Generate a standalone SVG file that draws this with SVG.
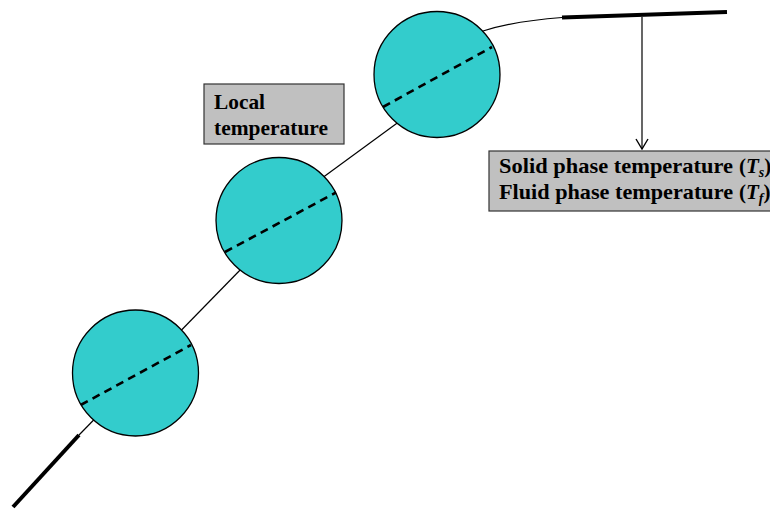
<svg xmlns="http://www.w3.org/2000/svg" width="770" height="509" viewBox="0 0 770 509">
<style>
.thin{fill:none;stroke:#000;stroke-width:1.2}
.thick{fill:none;stroke:#000;stroke-width:4}
.ball{fill:#33CCCC;stroke:#000;stroke-width:1.3}
.dash{fill:none;stroke:#000;stroke-width:2.6;stroke-dasharray:8 5.5}
.box{fill:#C0C0C0;stroke:#333;stroke-width:1.2}
.lbl{font-family:"Liberation Serif","Times New Roman",serif;font-weight:bold;font-size:21px;fill:#000}
.it{font-style:italic}
.sub{font-style:italic;font-size:14px}
</style>
<defs>
<marker id="arr" markerWidth="14" markerHeight="12" refX="7" refY="11" orient="0" markerUnits="userSpaceOnUse">
<path d="M1,1 L7,11 L13,1" fill="none" stroke="#000" stroke-width="1.4"/>
</marker>
</defs>
<g id="connectors">
<path class="thick" d="M13,507 L79,435"/>
<path class="thin" d="M79,435 L245,265"/>
<path class="thin" d="M318,181 L400,121"/>
<path class="thin" d="M470,38 L483,31 Q515,21 562,17.5"/>
<path class="thick" d="M562,17.5 L727,12"/>
<path class="thin" d="M642,17 L642,149" marker-end="url(#arr)"/>
</g>
<g id="particle1">
<circle class="ball" cx="135.5" cy="373" r="63"/>
<path class="dash" d="M80.7,405 L191,345"/>
</g>
<g id="particle2">
<circle class="ball" cx="279" cy="220.5" r="63"/>
<path class="dash" d="M225,252 L336,192.5"/>
</g>
<g id="particle3">
<circle class="ball" cx="437" cy="74.5" r="63"/>
<path class="dash" d="M383,107 L492,47"/>
</g>
<g id="local-label">
<rect class="box" x="204" y="84" width="140" height="60"/>
<text class="lbl" x="214" y="109" textLength="51" lengthAdjust="spacingAndGlyphs">Local</text>
<text class="lbl" x="214" y="135" textLength="114" lengthAdjust="spacingAndGlyphs">temperature</text>
</g>
<g id="phase-label">
<rect class="box" x="489" y="151" width="300" height="60"/>
<text class="lbl" x="499" y="173" textLength="234" lengthAdjust="spacingAndGlyphs">Solid phase temperature</text>
<text class="lbl" x="739" y="173">(<tspan class="it">T</tspan><tspan class="sub" dy="4">s</tspan><tspan dy="-4">)</tspan></text>
<text class="lbl" x="499" y="199" textLength="234" lengthAdjust="spacingAndGlyphs">Fluid phase temperature</text>
<text class="lbl" x="739" y="199">(<tspan class="it">T</tspan><tspan class="sub" dy="4">f</tspan><tspan dy="-4">)</tspan></text>
</g>
</svg>
